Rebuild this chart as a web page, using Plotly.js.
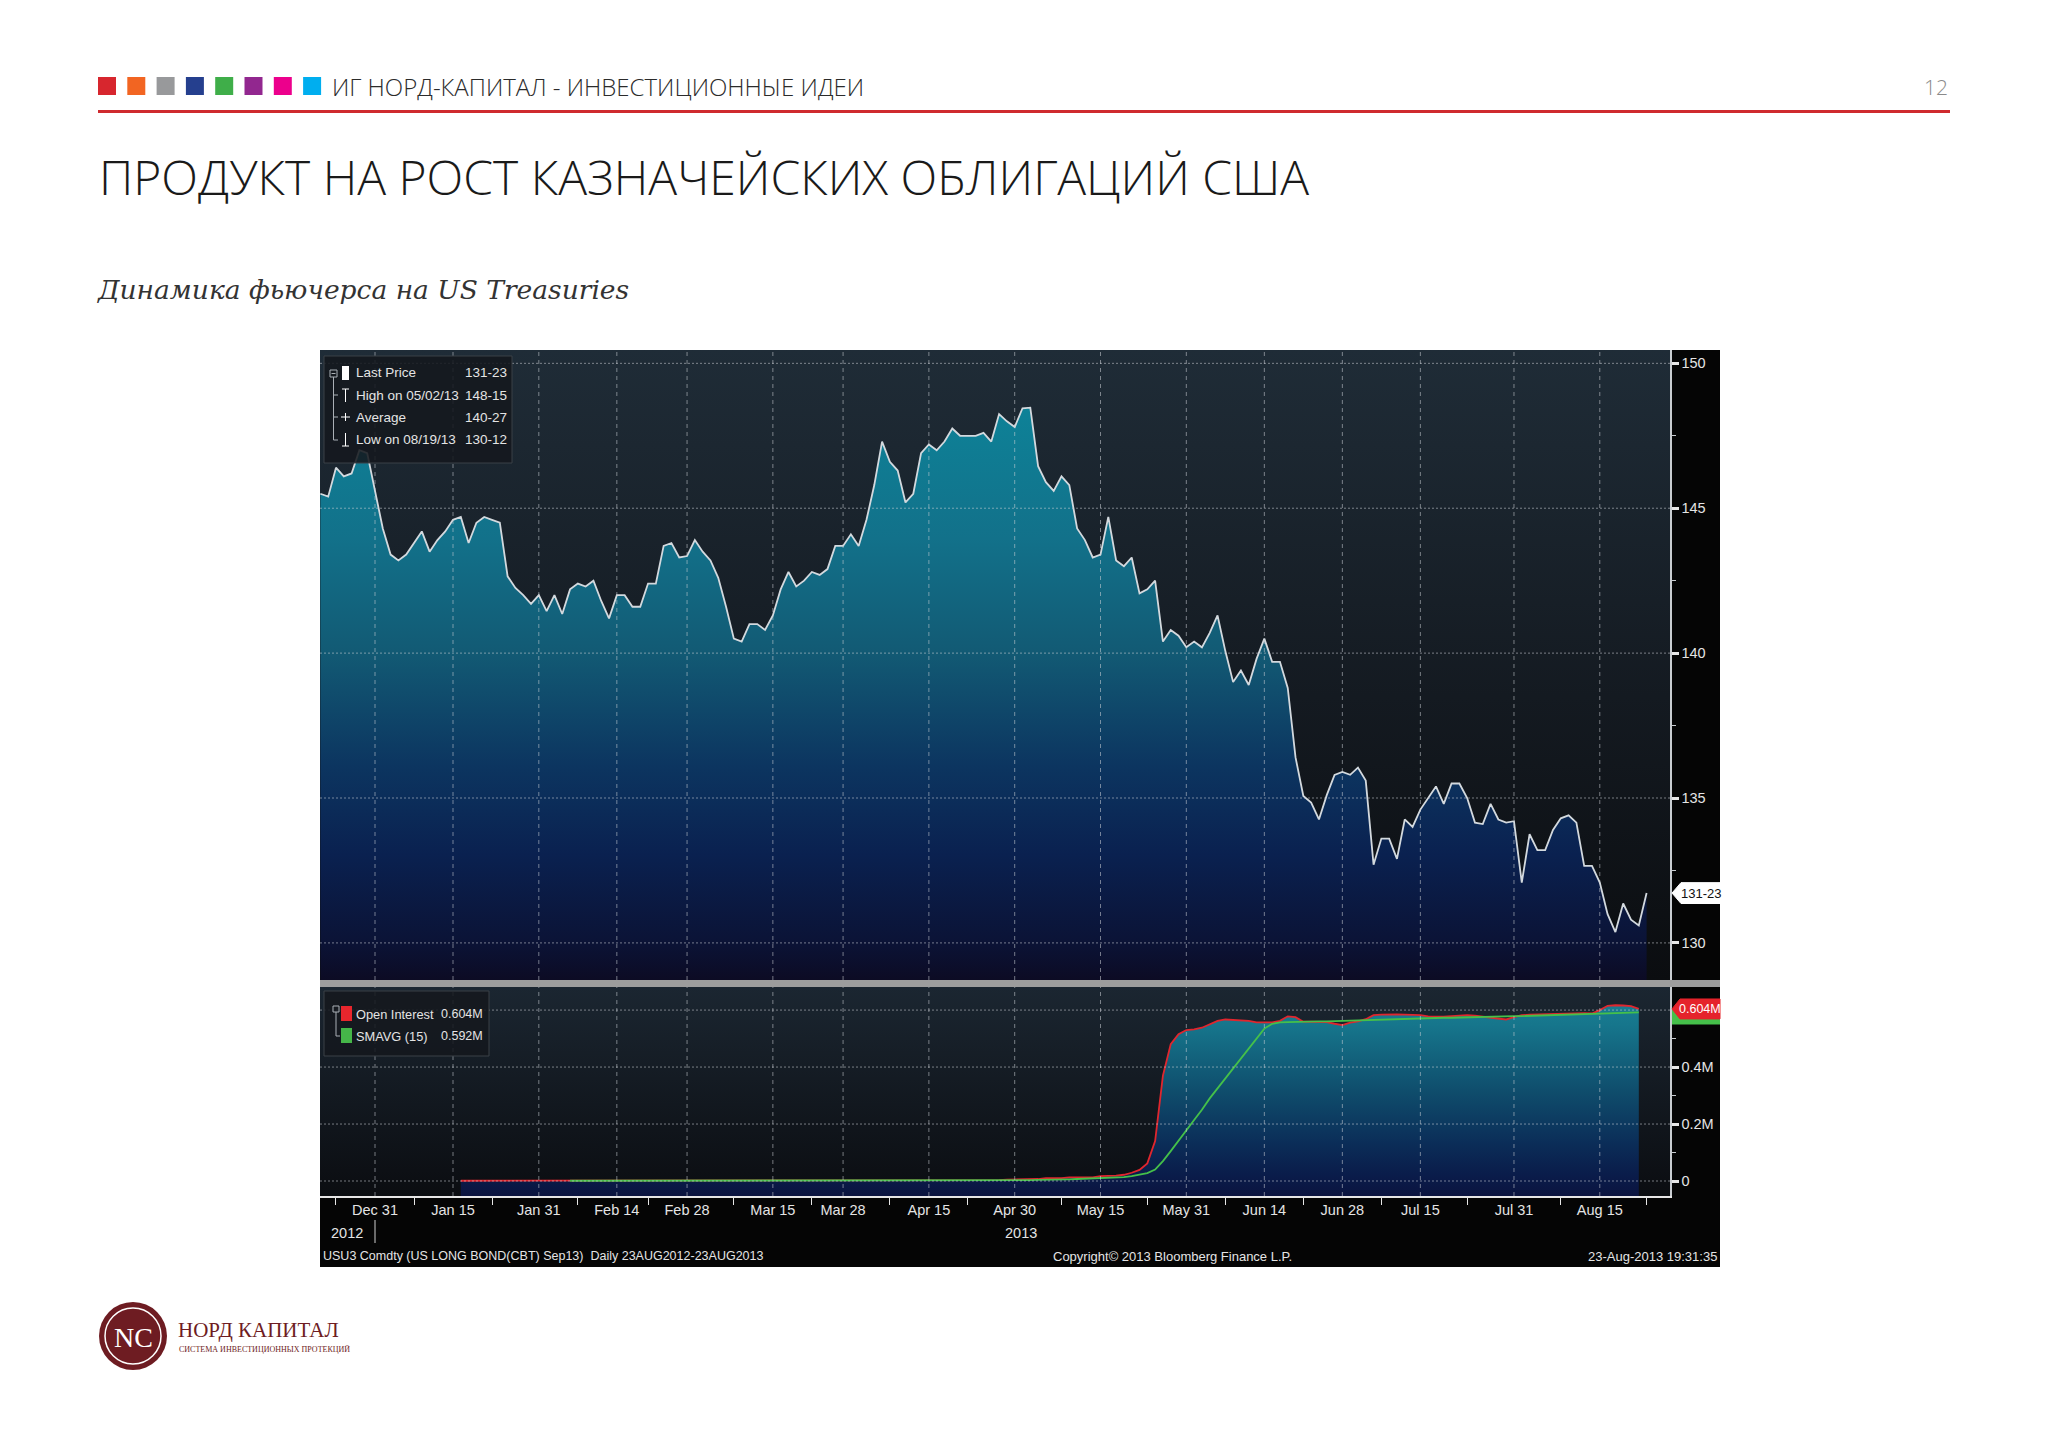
<!DOCTYPE html>
<html><head><meta charset="utf-8">
<script src="https://cdn.plot.ly/plotly-3.0.1.min.js"></script>
<style>html,body{margin:0;padding:0;background:#fff;}#chart{width:2048px;height:1443px;}</style>
</head><body><div id="chart"></div>
<script>
// ---------------- DATA ----------------
// USU3 last price, one value per trading day from 19 Dec 2012 to 23 Aug 2013
const lastPrice = [
 145.5,145.4,146.4,146.1,146.2,147.0,146.9,145.6,144.3,143.4,
 143.2,143.4,143.8,144.2,143.5,143.9,144.2,144.6,144.7,143.8,
 144.5,144.7,144.6,144.5,142.65,142.25,142.0,141.7,142.0,141.45,
 142.0,141.35,142.2,142.4,142.3,142.5,141.8,141.2,142.0,142.0,
 141.6,141.6,142.4,142.4,143.7,143.8,143.3,143.35,143.9,143.5,
 143.2,142.6,141.6,140.5,140.4,141.0,141.0,140.8,141.3,142.2,
 142.8,142.3,142.5,142.8,142.7,142.9,143.7,143.7,144.1,143.7,
 144.6,145.8,147.3,146.6,146.3,145.2,145.5,146.9,147.2,147.0,
 147.3,147.75,147.5,147.5,147.5,147.6,147.3,148.25,148.0,147.8,
 148.45,148.47,146.45,145.9,145.6,146.1,145.8,144.3,143.9,143.3,
 143.4,144.7,143.2,143.0,143.3,142.06,142.2,142.5,140.4,140.8,
 140.6,140.2,140.4,140.2,140.7,141.3,140.07,139.0,139.4,138.9,
 139.8,140.5,139.7,139.7,138.8,136.4,135.07,134.84,134.26,135.1,
 135.8,135.9,135.8,136.05,135.6,132.7,133.6,133.6,132.9,134.26,
 134.0,134.6,135.0,135.4,134.8,135.5,135.5,135.0,134.15,134.1,
 134.8,134.26,134.15,134.2,132.08,133.75,133.2,133.2,133.9,134.3,
 134.4,134.15,132.66,132.66,132.08,130.99,130.375,131.36,130.8,130.6,
 131.72];

// Open interest, millions of contracts (same trading days)
const openInterest = [
 null,null,null,null,null,null,null,null,null,null,
 null,null,null,null,null,null,null,null,0.001,0.001,
 0.001,0.001,0.001,0.001,0.001,0.001,0.001,0.001,0.001,0.001,
 0.001,0.001,0.001,0.001,0.001,0.001,0.001,0.001,0.001,0.001,
 0.001,0.001,0.001,0.001,0.001,0.001,0.001,0.001,0.001,0.001,
 0.001,0.001,0.001,0.001,0.001,0.001,0.001,0.001,0.001,0.001,
 0.002,0.002,0.002,0.002,0.002,0.002,0.002,0.002,0.002,0.002,
 0.002,0.002,0.002,0.002,0.002,0.002,0.002,0.002,0.002,0.002,
 0.002,0.002,0.002,0.002,0.002,0.002,0.002,0.003,0.005,0.005,
 0.005,0.007,0.007,0.01,0.01,0.01,0.013,0.013,0.013,0.013,
 0.017,0.017,0.019,0.022,0.029,0.039,0.062,0.14,0.37,0.48,
 0.515,0.53,0.532,0.538,0.55,0.562,0.567,0.565,0.564,0.562,
 0.557,0.556,0.557,0.562,0.578,0.575,0.559,0.559,0.559,0.558,
 0.552,0.547,0.556,0.56,0.568,0.582,0.584,0.585,0.585,0.584,
 0.583,0.582,0.578,0.577,0.577,0.579,0.581,0.582,0.58,0.577,
 0.574,0.57,0.567,0.575,0.582,0.584,0.585,0.585,0.586,0.587,
 0.588,0.59,0.589,0.588,0.6,0.615,0.617,0.616,0.614,0.604,
 null];

// SMAVG (15) of open interest, millions
const smavg15 = [
 null,null,null,null,null,null,null,null,null,null,
 null,null,null,null,null,null,null,null,null,null,
 null,null,null,null,null,null,null,null,null,null,
 null,null,0.001,0.001,0.001,0.001,0.001,0.001,0.001,0.001,
 0.001,0.001,0.001,0.001,0.001,0.001,0.001,0.001,0.001,0.001,
 0.001,0.001,0.001,0.001,0.001,0.001,0.001,0.001,0.001,0.001,
 0.001,0.001,0.001,0.002,0.002,0.002,0.002,0.002,0.002,0.002,
 0.002,0.002,0.002,0.002,0.002,0.002,0.002,0.002,0.002,0.002,
 0.002,0.002,0.002,0.002,0.002,0.002,0.002,0.002,0.002,0.002,
 0.003,0.003,0.004,0.004,0.005,0.005,0.006,0.007,0.008,0.009,
 0.01,0.011,0.012,0.014,0.017,0.022,0.028,0.04,0.07,0.105,
 0.14,0.177,0.214,0.25,0.29,0.325,0.36,0.395,0.43,0.467,
 0.503,0.535,0.552,0.557,0.558,0.559,0.559,0.56,0.56,0.56,
 0.561,0.561,0.562,0.563,0.564,0.565,0.566,0.567,0.568,0.569,
 0.57,0.571,0.572,0.572,0.573,0.573,0.574,0.575,0.576,0.576,
 0.577,0.577,0.578,0.579,0.579,0.58,0.58,0.581,0.581,0.582,
 0.583,0.584,0.585,0.586,0.587,0.588,0.589,0.59,0.591,0.592,
 null];

// date tick labels and their trading-day index
const dateTickLabels = ['Dec 31','Jan 15','Jan 31','Feb 14','Feb 28','Mar 15','Mar 28','Apr 15','Apr 30','May 15','May 31','Jun 14','Jun 28','Jul 15','Jul 31','Aug 15'];
const dateTickDay = [7,17,28,38,47,58,67,78,89,100,111,121,131,141,153,164];
const axisMarkDay = [2,12,22,33,42,53,63,73,83,95,106,116,126,136,147,159,170];
const priceTicks = [130,135,140,145,150];
const priceMinor = [132.5,137.5,142.5,147.5];
const oiTicks = [0,0.2,0.4];
const oiTickText = ['0','0.2M','0.4M'];
const oiGrid = [0,0.2,0.4,0.6];
const oiMinor = [0.1,0.3,0.5];
const priceLegend = [['Last Price','131-23'],['High on 05/02/13','148-15'],['Average','140-27'],['Low on 08/19/13','130-12']];
const oiLegend = [['Open Interest','0.604M'],['SMAVG (15)','0.592M']];
const lastPriceTag = '131-23';
const oiTag = '0.604M';
const headerColors = ['#d7262e','#f26522','#98999b','#253f8e','#3fae49','#92278f','#ec008c','#00aeef'];

// ---------------- LAYOUT ----------------
const W=2048,H=1443;
const px = x => x/W, py = y => 1 - y/H;
const NARROW = "'Liberation Sans',Arial,sans-serif";
const TXT = '#e4e4e4';
const GRID = 'rgba(205,210,215,0.55)';
const PL=320, PR=1670, CR=1720, UT=350, UB=980, LT=987, LB=1196, CB=1267;
const PRICE_RANGE=[128.72,150.46], OI_RANGE=[-0.0526,0.681], X_RANGE=[-0.05,173];
const dayIndex = lastPrice.map((_,i)=>i);

const svgGrad = (stops) => 'data:image/svg+xml;base64,' + btoa(
 '<svg xmlns="http://www.w3.org/2000/svg" width="100" height="100" viewBox="0 0 100 100" preserveAspectRatio="none"><defs><linearGradient id="g" x1="0" y1="0" x2="0" y2="1">' +
 stops.map(s=>'<stop offset="'+s[0]+'" stop-color="'+s[1]+'"/>').join('') +
 '</linearGradient></defs><rect width="100" height="100" fill="url(#g)"/></svg>');

const images = [
 {source: svgGrad([[0,'#050505'],[1,'#050505']]), xref:'paper', yref:'paper', x:px(PL), y:py(UT), sizex:px(CR)-px(PL), sizey:(CB-UT)/H, sizing:'stretch', xanchor:'left', yanchor:'top', layer:'below'},
 {source: svgGrad([[0,'#1f2c37'],[0.55,'#141a21'],[1,'#0b0d10']]), xref:'paper', yref:'paper', x:px(PL), y:py(UT), sizex:px(PR)-px(PL), sizey:(UB-UT)/H, sizing:'stretch', xanchor:'left', yanchor:'top', layer:'below'},
 {source: svgGrad([[0,'#1b2631'],[1,'#0b0d11']]), xref:'paper', yref:'paper', x:px(PL), y:py(LT), sizex:px(PR)-px(PL), sizey:(LB-LT)/H, sizing:'stretch', xanchor:'left', yanchor:'top', layer:'below'}
];

const PRICE_FILL = [[0,'#0c0b24'],[0.06,'#0b1336'],[0.2,'#0a2150'],[0.34,'#0c3560'],[0.52,'#125a74'],[0.7,'#12718a'],[0.9,'#0e8197'],[1,'#0e889d']];
const OI_FILL = [[0,'#0b1440'],[0.1,'#0a1c4a'],[0.25,'#0b2d58'],[0.5,'#0f4d6c'],[0.82,'#16768c'],[1,'#1a8296']];

const traces = [
 {type:'scatter', mode:'lines', x:dayIndex, y:lastPrice, xaxis:'x', yaxis:'y', fill:'tozeroy',
  fillgradient:{type:'vertical', start:PRICE_RANGE[0], stop:PRICE_RANGE[1], colorscale:PRICE_FILL},
  line:{color:'#d3d9de', width:1.8}, hoverinfo:'skip', showlegend:false},
 {type:'scatter', mode:'lines', x:dayIndex, y:openInterest.map(v=>v==null?null:OI_RANGE[0]), xaxis:'x2', yaxis:'y2',
  line:{width:0, color:'rgba(0,0,0,0)'}, hoverinfo:'skip', showlegend:false},
 {type:'scatter', mode:'lines', x:dayIndex, y:openInterest, xaxis:'x2', yaxis:'y2', fill:'tonexty',
  fillgradient:{type:'vertical', start:OI_RANGE[0], stop:OI_RANGE[1], colorscale:OI_FILL},
  line:{color:'#e0262e', width:1.8}, hoverinfo:'skip', showlegend:false},
 {type:'scatter', mode:'lines', x:dayIndex, y:smavg15, xaxis:'x2', yaxis:'y2',
  line:{color:'#45c04a', width:1.8}, hoverinfo:'skip', showlegend:false}
];

const shapes = [];
priceTicks.forEach(v=>shapes.push({type:'line', xref:'x domain', x0:0, x1:1, yref:'y', y0:v, y1:v, line:{color:GRID, width:1, dash:'2px,2px'}, layer:'above'}));
oiGrid.forEach(v=>shapes.push({type:'line', xref:'x2 domain', x0:0, x1:1, yref:'y2', y0:v, y1:v, line:{color:GRID, width:1, dash:'2px,2px'}, layer:'above'}));
dateTickDay.forEach(d=>{
 shapes.push({type:'line', xref:'x', x0:d, x1:d, yref:'y domain', y0:0, y1:1, line:{color:GRID, width:1, dash:'4px,4px'}, layer:'above'});
 shapes.push({type:'line', xref:'x2', x0:d, x1:d, yref:'y2 domain', y0:0, y1:1, line:{color:GRID, width:1, dash:'4px,4px'}, layer:'above'});
});
shapes.push({type:'rect', xref:'paper', yref:'paper', x0:px(PL), x1:px(CR), y0:py(987), y1:py(980), fillcolor:'#9d9d9d', line:{width:0}});
shapes.push({type:'rect', xref:'paper', yref:'paper', x0:px(324), x1:px(512), y0:py(463), y1:py(356), fillcolor:'rgba(20,24,30,0.88)', line:{color:'#3b4047', width:1}, layer:'above'});
shapes.push({type:'rect', xref:'paper', yref:'paper', x0:px(324), x1:px(489), y0:py(1056), y1:py(991), fillcolor:'rgba(20,24,30,0.88)', line:{color:'#3b4047', width:1}, layer:'above'});
const seg = (x0,y0,x1,y1,c)=>({type:'line', xref:'paper', yref:'paper', x0:px(x0), y0:py(y0), x1:px(x1), y1:py(y1), line:{color:c||'#aab0b6', width:1}, layer:'above'});
shapes.push({type:'rect', xref:'paper', yref:'paper', x0:px(330), x1:px(337), y0:py(377), y1:py(370), line:{color:'#aab0b6', width:1}, layer:'above'});
shapes.push(seg(331.5,373.5,335.5,373.5));
shapes.push(seg(333.5,377,333.5,440));
[395,417,440].forEach(y=>shapes.push(seg(333.5,y,338,y)));
shapes.push({type:'rect', xref:'paper', yref:'paper', x0:px(342), x1:px(349), y0:py(380), y1:py(366), fillcolor:'#ffffff', line:{width:0}, layer:'above'});
shapes.push(seg(345.5,389,345.5,402,'#ffffff')); shapes.push(seg(342,389,349,389,'#ffffff'));
shapes.push(seg(341,417,350,417,'#ffffff')); shapes.push(seg(345.5,413,345.5,421,'#ffffff'));
shapes.push(seg(345.5,433,345.5,446,'#ffffff')); shapes.push(seg(342,446,349,446,'#ffffff'));
shapes.push({type:'rect', xref:'paper', yref:'paper', x0:px(333), x1:px(339), y0:py(1012), y1:py(1006), line:{color:'#aab0b6', width:1}, layer:'above'});
shapes.push(seg(336,1012,336,1036)); shapes.push(seg(336,1036,340,1036));
shapes.push({type:'rect', xref:'paper', yref:'paper', x0:px(341), x1:px(352), y0:py(1021), y1:py(1006), fillcolor:'#e8262d', line:{width:0}, layer:'above'});
shapes.push({type:'rect', xref:'paper', yref:'paper', x0:px(341), x1:px(352), y0:py(1043), y1:py(1028), fillcolor:'#45b649', line:{width:0}, layer:'above'});
const lastVal = lastPrice[lastPrice.length-1];
shapes.push({type:'path', xref:'paper', yref:'y', layer:'above', fillcolor:'#ffffff', line:{color:'#ffffff', width:1},
 path:`M ${px(1672)},${lastVal} L ${px(1681)},${lastVal+0.36} L ${px(1720)},${lastVal+0.36} L ${px(1720)},${lastVal-0.36} L ${px(1681)},${lastVal-0.36} Z`});
const oiLast = openInterest[openInterest.length-2];
shapes.push({type:'rect', xref:'paper', yref:'y2', layer:'above', fillcolor:'#45c04a', line:{width:0}, x0:px(1672), x1:px(1720), y0:oiLast-0.055, y1:oiLast});
shapes.push({type:'path', xref:'paper', yref:'y2', layer:'above', fillcolor:'#e5232b', line:{color:'#e5232b', width:1},
 path:`M ${px(1672)},${oiLast} L ${px(1680)},${oiLast+0.035} L ${px(1720)},${oiLast+0.035} L ${px(1720)},${oiLast-0.035} L ${px(1680)},${oiLast-0.035} Z`});
shapes.push({type:'line', xref:'x2', x0:dateTickDay[0], x1:dateTickDay[0], yref:'paper', y0:py(1220), y1:py(1243), line:{color:'#cfcfcf', width:1}});
headerColors.forEach((c,k)=>shapes.push({type:'rect', xref:'paper', yref:'paper', x0:px(98+k*29.3), x1:px(116+k*29.3), y0:py(95), y1:py(77), fillcolor:c, line:{width:0}}));
shapes.push({type:'line', xref:'paper', yref:'paper', x0:px(98), x1:px(1950), y0:py(111.5), y1:py(111.5), line:{color:'#cf2a2f', width:3}});
shapes.push({type:'circle', xref:'paper', yref:'paper', x0:px(99), x1:px(167), y0:py(1370), y1:py(1302), fillcolor:'#6e1c22', line:{width:0}});
shapes.push({type:'circle', xref:'paper', yref:'paper', x0:px(105), x1:px(161), y0:py(1364), y1:py(1308), line:{color:'#ffffff', width:1.5}});

const T = (text,x,y,o={}) => Object.assign({text, xref:'paper', yref:'paper', x:px(x), y:py(y), showarrow:false,
 xanchor:o.xa||'left', yanchor:o.ya||'middle', font:Object.assign({family:NARROW, size:13.5, color:TXT}, o.font||{})}, o.extra||{});

const annotations = [];
priceLegend.forEach((r,i)=>{
 const y=[373,395,417,440][i];
 annotations.push(T(r[0],354,y));
 annotations.push(T(r[1],509,y,{xa:'right'}));
});
oiLegend.forEach((r,i)=>{
 const y=[1014,1036][i];
 annotations.push(T(r[0],354,y,{font:{size:12.8}}));
 annotations.push(T(r[1],485,y,{xa:'right',font:{size:12.5}}));
});
annotations.push(Object.assign(T(lastPriceTag,1701,0,{xa:'center',font:{color:'#111111',size:13}}),{yref:'y', y:lastVal}));
annotations.push(Object.assign(T(oiTag,1700,0,{xa:'center',font:{color:'#ffffff',size:12.5}}),{yref:'y2', y:oiLast}));
annotations.push(T('2012',347,1233,{xa:'center',font:{size:14.5}}));
annotations.push(T('2013',1021,1233,{xa:'center',font:{size:14.5}}));
annotations.push(T('USU3 Comdty (US LONG BOND(CBT) Sep13)\u00a0\u00a0Daily 23AUG2012-23AUG2013',321,1256,{font:{size:12.5}}));
annotations.push(T('Copyright\u00a9 2013 Bloomberg Finance L.P.',1051,1256,{font:{size:13}}));
annotations.push(T('23-Aug-2013 19:31:35',1719,1256,{xa:'right',font:{size:13}}));
annotations.push(T('ИГ НОРД-КАПИТАЛ - ИНВЕСТИЦИОННЫЕ ИДЕИ',330,86,{font:{family:"'Open Sans',sans-serif",size:24,color:'#2b2b2b',weight:300}}));
annotations.push(T('12',1950,87,{xa:'right',font:{family:"'Open Sans',sans-serif",size:21,color:'#8a8a8a',weight:300}}));
annotations.push(T('ПРОДУКТ НА РОСТ КАЗНАЧЕЙСКИХ ОБЛИГАЦИЙ США',97,176,{font:{family:"'Open Sans',sans-serif",size:48,color:'#1a1a1a',weight:300}}));
annotations.push(T('Динамика фьючерса на US Treasuries',95,289,{font:{family:"'DejaVu Serif',serif",size:26.5,color:'#333333',style:'italic'}}));
annotations.push(T('NC',133,1337,{xa:'center',font:{family:"'Liberation Serif',serif",size:28,color:'#ffffff'}}));
annotations.push(T('НОРД КАПИТАЛ',176,1330,{font:{family:"'Liberation Serif',serif",size:21,color:'#6e1c22'}}));
annotations.push(T('СИСТЕМА ИНВЕСТИЦИОННЫХ ПРОТЕКЦИЙ',177,1349,{font:{family:"'Liberation Serif',serif",size:8,color:'#6e1c22'}}));

const axisCommon = {zeroline:false, showgrid:false, fixedrange:true};
const TICKFONT = {family:NARROW, size:14.5, color:TXT};
const layout = {
 width:W, height:H, margin:{l:0,r:0,t:0,b:0}, paper_bgcolor:'#ffffff', plot_bgcolor:'rgba(0,0,0,0)',
 showlegend:false, hovermode:false,
 xaxis:Object.assign({}, axisCommon, {domain:[px(PL),px(PR)], range:X_RANGE, anchor:'y', showticklabels:false, showline:false, ticks:''}),
 yaxis:Object.assign({}, axisCommon, {domain:[py(UB),py(UT)], range:PRICE_RANGE, anchor:'x', side:'right',
  tickmode:'array', tickvals:priceTicks, ticks:'outside', ticklen:7, tickwidth:3, tickcolor:'#e6e6e6',
  showline:true, linecolor:'#c9cdd1', linewidth:1.5, tickfont:TICKFONT,
  minor:{tickmode:'array', tickvals:priceMinor, ticks:'outside', ticklen:4, tickwidth:1, tickcolor:'#c9cdd1', showgrid:false}}),
 xaxis2:Object.assign({}, axisCommon, {domain:[px(PL),px(PR)], range:X_RANGE, anchor:'y2', matches:'x',
  tickmode:'array', tickvals:dateTickDay, ticktext:dateTickLabels, ticks:'', showline:true, linecolor:'#e6e6e6', linewidth:2,
  tickfont:TICKFONT,
  minor:{tickmode:'array', tickvals:axisMarkDay, ticks:'outside', ticklen:7, tickwidth:1, tickcolor:'#e6e6e6', showgrid:false}}),
 yaxis2:Object.assign({}, axisCommon, {domain:[py(LB),py(LT)], range:OI_RANGE, anchor:'x2', side:'right',
  tickmode:'array', tickvals:oiTicks, ticktext:oiTickText, ticks:'outside', ticklen:7, tickwidth:3, tickcolor:'#e6e6e6',
  showline:true, linecolor:'#c9cdd1', linewidth:1.5, tickfont:TICKFONT,
  minor:{tickmode:'array', tickvals:oiMinor, ticks:'outside', ticklen:4, tickwidth:1, tickcolor:'#c9cdd1', showgrid:false}}),
 images, shapes, annotations
};
Plotly.newPlot('chart', traces, layout, {staticPlot:true, displayModeBar:false});
</script></body></html>
